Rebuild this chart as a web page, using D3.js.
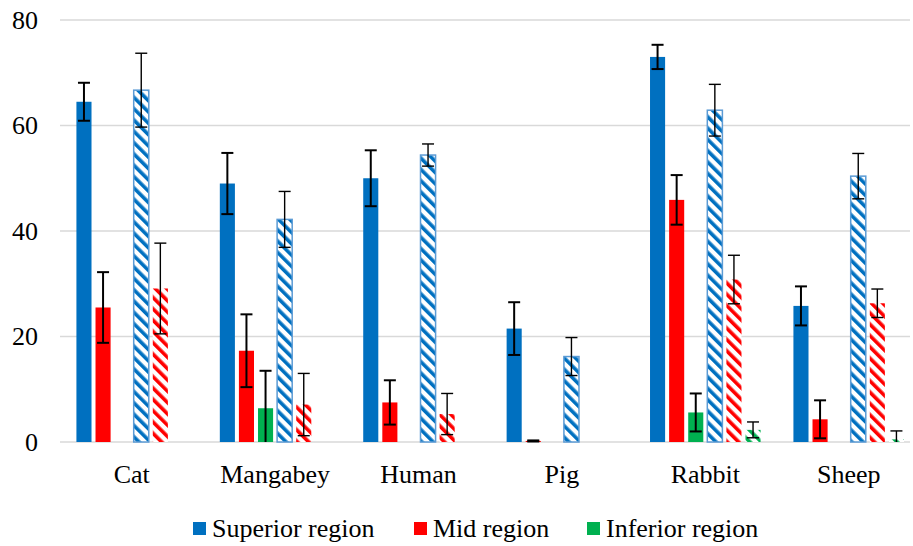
<!DOCTYPE html>
<meta charset="utf-8">
<head>
<style>
  body { margin: 0; background: #fff; }
  svg text { font-family: 'Liberation Serif', 'Times New Roman', Tinos, 'DejaVu Serif', serif; fill: #000; }
</style>
</head>
<body>
<div id="chart"></div>
<script src="https://d3js.org/d3.v7.min.js"></script>
<script>
// categories and series values
var categories = ["Cat", "Mangabey", "Human", "Pig", "Rabbit", "Sheep"];
var yTicks = [0, 20, 40, 60, 80];

var superiorSolid    = [64.5, 49.0, 50.0, 21.5, 73.0, 25.8];
var superiorSolidErr = [3.6, 5.8, 5.3, 5.0, 2.3, 3.7];
var midSolid         = [25.5, 17.3, 7.5, 0.2, 45.9, 4.3];
var midSolidErr      = [6.7, 6.9, 4.2, 0.1, 4.7, 3.6];
var inferiorSolid    = [0, 6.4, 0, 0, 5.6, 0];
var inferiorSolidErr = [0, 7.1, 0, 0, 3.6, 0];

var superiorHatch    = [66.7, 42.2, 54.4, 16.2, 62.9, 50.4];
var superiorHatchErr = [7.0, 5.3, 2.1, 3.6, 4.9, 4.3];
var midHatch         = [29.1, 7.1, 5.3, 0, 30.8, 26.3];
var midHatchErr      = [8.6, 5.9, 3.9, 0, 4.6, 2.7];
var inferiorHatch    = [0, 0, 0, 0, 2.3, 0.5];
var inferiorHatchErr = [0, 0, 0, 0, 1.5, 1.6];

var legendNames = ["Superior region", "Mid region", "Inferior region"];

var colors = { sup: "#0070C0", mid: "#FF0000", inf: "#00B050" };

var series = [
  { key: "s1", color: colors.sup, hatch: false, values: superiorSolid, err: superiorSolidErr },
  { key: "s2", color: colors.mid, hatch: false, values: midSolid, err: midSolidErr },
  { key: "s3", color: colors.inf, hatch: false, values: inferiorSolid, err: inferiorSolidErr },
  { key: "s4", color: colors.sup, hatch: true, values: superiorHatch, err: superiorHatchErr },
  { key: "s5", color: colors.mid, hatch: true, values: midHatch, err: midHatchErr },
  { key: "s6", color: colors.inf, hatch: true, values: inferiorHatch, err: inferiorHatchErr }
];

var W = 913, H = 546;
var margin = {top: 20, bottom: 104, left: 60};
var plotRight = 920.4;   // the last band runs a bit past the page edge
var font = "'Liberation Serif', 'Times New Roman', Tinos, 'DejaVu Serif', serif";
var fontSize = "26px";

var svg = d3.select("#chart").append("svg")
  .attr("width", W).attr("height", H);

// hatch patterns, downward diagonal
var defs = svg.append("defs");
[colors.sup, colors.mid, colors.inf].forEach(function(c, i) {
  var p = defs.append("pattern")
    .attr("id", "hatch" + i)
    .attr("patternUnits", "userSpaceOnUse")
    .attr("width", 8).attr("height", 8)
    .attr("patternTransform", "rotate(-45)");
  p.append("rect").attr("width", 8).attr("height", 8).attr("fill", "#fff");
  p.append("rect").attr("width", 3.6).attr("height", 8).attr("fill", c);
});
var hatchId = {};
hatchId[colors.sup] = "url(#hatch0)";
hatchId[colors.mid] = "url(#hatch1)";
hatchId[colors.inf] = "url(#hatch2)";

var x = d3.scaleBand()
  .domain(categories)
  .range([margin.left, plotRight])
  .padding(0);

var xInner = d3.scaleBand()
  .domain(series.map(function(d) { return d.key; }))
  .range([0, x.bandwidth()])
  .paddingInner(0.21)
  .paddingOuter(0.86);

var y = d3.scaleLinear()
  .domain([0, 80])
  .range([H - margin.bottom, margin.top]);

// gridlines
svg.append("g")
  .selectAll("line")
  .data(yTicks)
  .enter().append("line")
    .attr("x1", margin.left).attr("x2", W - 3)
    .attr("y1", function(d) { return y(d); })
    .attr("y2", function(d) { return y(d); })
    .attr("stroke", "#d9d9d9")
    .attr("stroke-width", 1.5);

// y axis labels
svg.append("g")
  .selectAll("text")
  .data(yTicks)
  .enter().append("text")
    .attr("x", 38)
    .attr("y", function(d) { return y(d); })
    .attr("dy", "0.33em")
    .attr("text-anchor", "end")
    .attr("font-family", font)
    .style("font-size", fontSize)
    .text(function(d) { return d; });

// bars
var groups = svg.append("g")
  .selectAll("g")
  .data(series)
  .enter().append("g");

groups.selectAll("rect")
  .data(function(s) {
    return categories.map(function(c, i) {
      return { cat: c, v: s.values[i], e: s.err[i], s: s };
    });
  })
  .enter().append("rect")
    .attr("x", function(d) { return x(d.cat) + xInner(d.s.key); })
    .attr("y", function(d) { return y(d.v); })
    .attr("width", xInner.bandwidth())
    .attr("height", function(d) { return y(0) - y(d.v); })
    .attr("fill", function(d) { return d.s.hatch ? hatchId[d.s.color] : d.s.color; })
    .attr("stroke", function(d) {
      if (d.v <= 0) return "none";
      return (d.s.hatch && d.s.color === colors.sup) ? "#5B9BD5" : "none";
    })
    .attr("stroke-width", 1.5);

// error bars
var errG = groups.selectAll("g.err")
  .data(function(s) {
    return categories.map(function(c, i) {
      return { cat: c, v: s.values[i], e: s.err[i], s: s };
    }).filter(function(d) { return d.e > 0; });
  })
  .enter().append("g")
    .attr("class", "err")
    .attr("stroke", "#000")
    .attr("stroke-width", function(d) { return d.s.hatch ? 1.4 : 2; });

function cx(d) { return x(d.cat) + xInner(d.s.key) + xInner.bandwidth() / 2; }

errG.append("line")
  .attr("x1", cx).attr("x2", cx)
  .attr("y1", function(d) { return y(d.v + d.e); })
  .attr("y2", function(d) { return y(Math.max(0, d.v - d.e)); });
errG.append("line")
  .attr("x1", function(d) { return cx(d) - 6; })
  .attr("x2", function(d) { return cx(d) + 6; })
  .attr("y1", function(d) { return y(d.v + d.e); })
  .attr("y2", function(d) { return y(d.v + d.e); });
errG.filter(function(d) { return d.v - d.e > 0; }).append("line")
  .attr("x1", function(d) { return cx(d) - 6; })
  .attr("x2", function(d) { return cx(d) + 6; })
  .attr("y1", function(d) { return y(d.v - d.e); })
  .attr("y2", function(d) { return y(d.v - d.e); });

// category labels
svg.append("g")
  .selectAll("text")
  .data(categories)
  .enter().append("text")
    .attr("x", function(d) { return x(d) + x.bandwidth() / 2; })
    .attr("y", 483)
    .attr("text-anchor", "middle")
    .attr("font-family", font)
    .style("font-size", fontSize)
    .text(function(d) { return d; });

// legend
var legendX = [193, 414, 587];
var legend = svg.append("g")
  .selectAll("g")
  .data(legendNames)
  .enter().append("g")
    .attr("transform", function(d, i) { return "translate(" + legendX[i] + ",522)"; });
legend.append("rect")
  .attr("width", 13).attr("height", 13)
  .attr("fill", function(d, i) { return [colors.sup, colors.mid, colors.inf][i]; });
legend.append("text")
  .attr("x", 19).attr("y", 15)
  .attr("font-family", font)
  .style("font-size", fontSize)
  .text(function(d) { return d; });
</script>
</body>
